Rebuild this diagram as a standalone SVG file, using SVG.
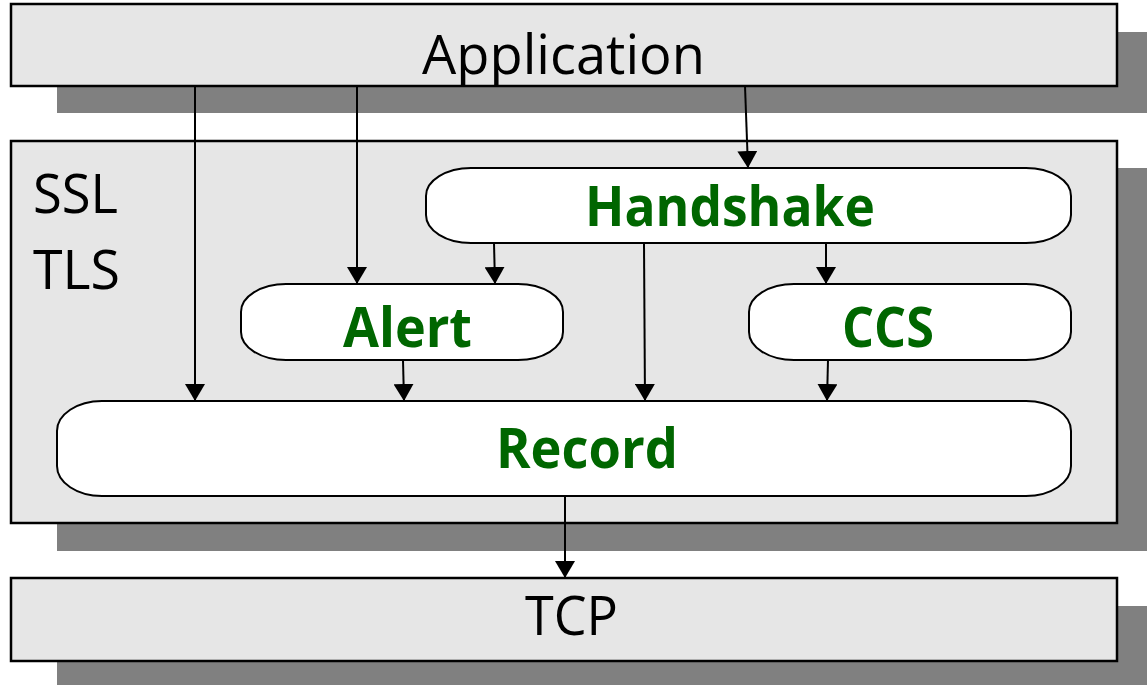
<svg xmlns="http://www.w3.org/2000/svg" width="1147" height="685" viewBox="0 0 1147 685">
<defs>
<style>
.shadow{fill:#808080;stroke:none}
.layer{fill:#e6e6e6;stroke:#000;stroke-width:2.5}
.proto{fill:#fff;stroke:#000;stroke-width:2}
.lbl{font-family:"Open Sans","Liberation Sans",sans-serif;font-size:54px;fill:#000}
.glbl{font-family:"Open Sans","Liberation Sans",sans-serif;font-weight:bold;font-size:55px;fill:#006600;text-anchor:middle}
.conn{stroke:#000;stroke-width:2;fill:none;marker-end:url(#arr)}
</style>
<marker id="arr" viewBox="0 0 17 20" refX="17" refY="10" markerWidth="17" markerHeight="20" markerUnits="userSpaceOnUse" orient="auto">
<path d="M0,0 L17,10 L0,20 z" fill="#000"/>
</marker>
</defs>
<g id="application">
<rect class="shadow" x="57" y="32" width="1106" height="81"/>
<rect class="layer" x="11" y="4" width="1106" height="82"/>
<text class="lbl" x="422" y="74" textLength="283" lengthAdjust="spacingAndGlyphs">Application</text>
</g>
<g id="ssltls">
<rect class="shadow" x="57" y="168" width="1106" height="383"/>
<rect class="layer" x="11" y="141" width="1106" height="382"/>
<text class="lbl" x="33" y="213" textLength="85" lengthAdjust="spacingAndGlyphs">SSL</text>
<text class="lbl" x="33" y="289" textLength="87" lengthAdjust="spacingAndGlyphs">TLS</text>
</g>
<g id="tcp">
<rect class="shadow" x="57" y="606" width="1106" height="90"/>
<rect class="layer" x="11" y="578" width="1106" height="83"/>
<text class="lbl" x="525" y="635" textLength="93" lengthAdjust="spacingAndGlyphs">TCP</text>
</g>
<g id="handshake">
<rect class="proto" x="426" y="168" width="645" height="75" rx="45" ry="28"/>
<text class="glbl" x="730" y="226" textLength="290" lengthAdjust="spacingAndGlyphs">Handshake</text>
</g>
<g id="alert">
<rect class="proto" x="241" y="284" width="322" height="76" rx="45" ry="28"/>
<text class="glbl" x="407.5" y="347" textLength="129" lengthAdjust="spacingAndGlyphs">Alert</text>
</g>
<g id="ccs">
<rect class="proto" x="749" y="284" width="322" height="76" rx="45" ry="28"/>
<text class="glbl" x="888" y="347" textLength="92" lengthAdjust="spacingAndGlyphs">CCS</text>
</g>
<g id="record">
<rect class="proto" x="57" y="401" width="1014" height="95" rx="45" ry="30"/>
<text class="glbl" x="587" y="468" textLength="182" lengthAdjust="spacingAndGlyphs">Record</text>
</g>
<g id="connectors">
<path class="conn" d="M195,86 V401"/>
<path class="conn" d="M357,86 V284"/>
<path class="conn" d="M745,86 L748,168"/>
<path class="conn" d="M494,243 L495,284"/>
<path class="conn" d="M644,243 L645,401"/>
<path class="conn" d="M826,243 V284"/>
<path class="conn" d="M403,360 L404,401"/>
<path class="conn" d="M828,360 L827,401"/>
<path class="conn" d="M565,496 V578"/>
</g>
</svg>
